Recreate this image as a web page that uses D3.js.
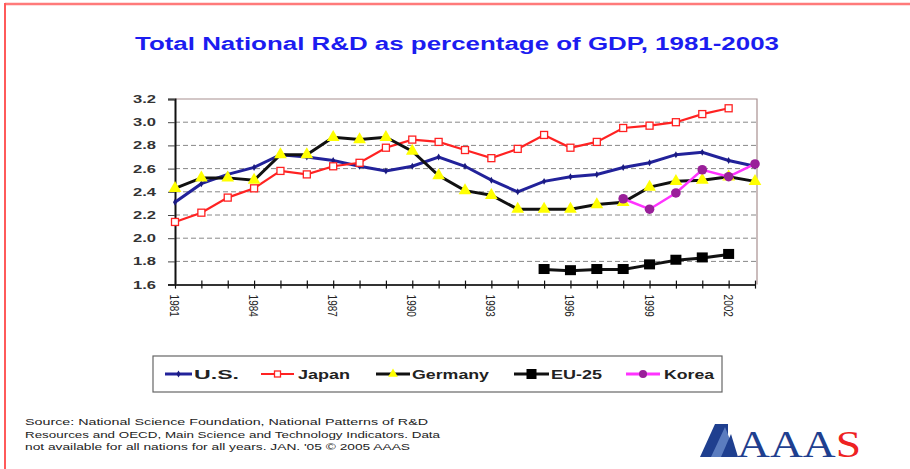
<!DOCTYPE html>
<html><head><meta charset="utf-8">
<script src="https://cdn.jsdelivr.net/npm/d3@7"></script>
<style>body{margin:0;background:#fff}svg{display:block}</style>
</head><body>
<svg id="c" width="910" height="469"></svg>
<script>
const years = d3.range(1981, 2004);
const yTicks = [1.6, 1.8, 2.0, 2.2, 2.4, 2.6, 2.8, 3.0, 3.2];
const xTickLabels = [1981, 1984, 1987, 1990, 1993, 1996, 1999, 2002];
const usYears = d3.range(1981, 2004);
const usValues = [2.31, 2.47, 2.55, 2.61, 2.72, 2.70, 2.67, 2.62, 2.58, 2.62, 2.70, 2.62, 2.50, 2.40, 2.49, 2.53, 2.55, 2.61, 2.65, 2.72, 2.74, 2.67, 2.62];
const japanYears = d3.range(1981, 2003);
const japanValues = [2.14, 2.22, 2.35, 2.43, 2.58, 2.55, 2.62, 2.65, 2.78, 2.85, 2.83, 2.76, 2.69, 2.77, 2.89, 2.78, 2.83, 2.95, 2.97, 3.00, 3.07, 3.12];
const germanyYears = d3.range(1981, 2004);
const germanyValues = [2.43, 2.52, 2.52, 2.50, 2.72, 2.72, 2.87, 2.85, 2.87, 2.75, 2.54, 2.41, 2.37, 2.25, 2.25, 2.25, 2.29, 2.31, 2.44, 2.49, 2.50, 2.53, 2.49];
const euYears = d3.range(1995, 2003);
const euValues = [1.73, 1.72, 1.73, 1.73, 1.77, 1.81, 1.83, 1.86];
const koreaYears = d3.range(1998, 2004);
const koreaValues = [2.34, 2.25, 2.39, 2.59, 2.53, 2.64];
const seriesNames = ["U.S.", "Japan", "Germany", "EU-25", "Korea"];
const sourceLines = [
  "Source: National Science Foundation, National Patterns of R&D",
  "Resources and OECD, Main Science and Technology Indicators. Data",
  "not available for all nations for all years. JAN. '05 \u00a9 2005 AAAS"
];

const svg = d3.select("#c");
const FONT = "Liberation Sans, Arial, sans-serif";
const x = d3.scaleLinear().domain([1981, 2003]).range([175, 755]);
const y = d3.scaleLinear().domain([1.6, 3.2]).range([284.6, 99]);

// red frame
svg.append("line").attr("x1", 5).attr("x2", 910).attr("y1", 4).attr("y2", 4).attr("stroke", "#ff7a7a").attr("stroke-width", 2.5);
svg.append("line").attr("x1", 5).attr("x2", 5).attr("y1", 3).attr("y2", 469).attr("stroke", "#ff5a5a").attr("stroke-width", 2);

// title (reference is horizontally stretched)
svg.append("text").attr("x", 135).attr("y", 50)
  .attr("font-family", FONT).attr("font-weight", "bold").attr("font-size", 18)
  .attr("textLength", 644).attr("lengthAdjust", "spacingAndGlyphs")
  .attr("fill", "#1c1cf0").text("Total National R&D as percentage of GDP, 1981-2003");

// gridlines
svg.append("g").selectAll("line").data(yTicks.slice(1, -1)).join("line")
  .attr("x1", 175).attr("x2", 757).attr("y1", d => y(d)).attr("y2", d => y(d))
  .attr("stroke", "#888").attr("stroke-width", 1).attr("stroke-dasharray", "5,3");
// top & right border
svg.append("path").attr("d", `M175,${y(3.2)}H757V${y(1.6)}`).attr("fill", "none").attr("stroke", "#a89090").attr("stroke-width", 1.2);

// y axis
const yAxis = d3.axisLeft(y).tickValues(yTicks).tickFormat(d3.format(".1f")).tickSize(7).tickPadding(12);
const gy = svg.append("g").attr("transform", "translate(175,0)").call(yAxis);
gy.select(".domain").attr("stroke", "#111").attr("stroke-width", 2);
gy.selectAll(".tick line").attr("stroke", "#444");
gy.selectAll("text").attr("font-family", FONT).attr("font-weight", "bold").attr("font-size", 11)
  .attr("textLength", 23).attr("lengthAdjust", "spacingAndGlyphs").attr("fill", "#333");

// x axis
const xAxis = d3.axisBottom(x).tickValues(years).tickSize(0).tickFormat("");
const gx = svg.append("g").attr("transform", `translate(0,${y(1.6)})`).call(xAxis);
gx.select(".domain").attr("stroke", "#333").attr("stroke-width", 2);
gx.selectAll(".tick").append("line").attr("y1", -4).attr("y2", 4).attr("stroke", "#111").attr("stroke-width", 1.2);
svg.append("g").selectAll("text").data(xTickLabels).join("text")
  .attr("transform", d => `translate(${x(d) - 5},${y(1.6) + 10}) rotate(90) scale(1,1.3)`)
  .attr("font-family", FONT).attr("font-size", 10).attr("fill", "#222")
  .text(d => d);

const line = d3.line().x(d => x(d[0])).y(d => y(d[1]));
const zip = (a, b) => a.map((v, i) => [v, b[i]]);

// US
const usData = zip(usYears, usValues);
svg.append("path").datum(usData).attr("d", line).attr("fill", "none").attr("stroke", "#22229a").attr("stroke-width", 3);
svg.append("g").selectAll("path").data(usData).join("path")
  .attr("d", d3.symbol(d3.symbolDiamond, 14)).attr("transform", d => `translate(${x(d[0])},${y(d[1])})`).attr("fill", "#1a1a80");
// Japan
const jpData = zip(japanYears, japanValues);
svg.append("path").datum(jpData).attr("d", line).attr("fill", "none").attr("stroke", "#ff2222").attr("stroke-width", 2.2);
svg.append("g").selectAll("rect").data(jpData).join("rect")
  .attr("x", d => x(d[0]) - 3.5).attr("y", d => y(d[1]) - 3.5).attr("width", 7).attr("height", 7)
  .attr("fill", "#fff").attr("stroke", "#ff2222").attr("stroke-width", 1.3);
// Germany
const deData = zip(germanyYears, germanyValues);
svg.append("path").datum(deData).attr("d", line).attr("fill", "none").attr("stroke", "#111").attr("stroke-width", 3);
svg.append("g").selectAll("path").data(deData).join("path")
  .attr("d", d3.symbol(d3.symbolTriangle, 70)).attr("transform", d => `translate(${x(d[0])},${y(d[1])})`).attr("fill", "#ffff00");
// EU-25
const euData = zip(euYears, euValues);
svg.append("path").datum(euData).attr("d", line).attr("fill", "none").attr("stroke", "#111").attr("stroke-width", 3);
svg.append("g").selectAll("rect").data(euData).join("rect")
  .attr("x", d => x(d[0]) - 5.5).attr("y", d => y(d[1]) - 5.5).attr("width", 11).attr("height", 10)
  .attr("fill", "#000");
// Korea
const krData = zip(koreaYears, koreaValues);
svg.append("path").datum(krData).attr("d", line).attr("fill", "none").attr("stroke", "#ff33ff").attr("stroke-width", 2.5);
svg.append("g").selectAll("circle").data(krData).join("circle")
  .attr("cx", d => x(d[0])).attr("cy", d => y(d[1])).attr("r", 4.8).attr("fill", "#991f99");

// legend
svg.append("rect").attr("x", 153).attr("y", 356).attr("width", 569).attr("height", 36)
  .attr("fill", "#fff").attr("stroke", "#666").attr("stroke-width", 1.2);
const legLine = [[165, 192], [261, 294], [376, 410], [514, 549], [626, 660]];
const legText = [[194, 45], [298, 52], [412, 77], [551, 51], [664, 50]];
const lg = svg.append("g");
const ly = 374;
seriesNames.forEach((name, i) => {
  const [x0, x1] = legLine[i], cx = (x0 + x1) / 2;
  const col = ["#22229a", "#ff2222", "#111", "#111", "#ff33ff"][i];
  lg.append("line").attr("x1", x0).attr("x2", x1).attr("y1", ly).attr("y2", ly).attr("stroke", col).attr("stroke-width", i === 1 ? 2.2 : 3);
  if (i === 0) lg.append("path").attr("d", d3.symbol(d3.symbolDiamond, 14)).attr("transform", `translate(${cx},${ly})`).attr("fill", "#1a1a80");
  if (i === 1) lg.append("rect").attr("x", cx - 3).attr("y", ly - 3).attr("width", 6).attr("height", 6).attr("fill", "#fff").attr("stroke", "#ff2222").attr("stroke-width", 1.3);
  if (i === 2) lg.append("path").attr("d", d3.symbol(d3.symbolTriangle, 40)).attr("transform", `translate(${cx},${ly})`).attr("fill", "#ffff00");
  if (i === 3) lg.append("rect").attr("x", cx - 5).attr("y", ly - 5).attr("width", 10).attr("height", 10).attr("fill", "#000");
  if (i === 4) lg.append("circle").attr("cx", cx).attr("cy", ly).attr("r", 4).attr("fill", "#991f99");
  lg.append("text").attr("x", legText[i][0]).attr("y", ly + 4.5)
    .attr("font-family", FONT).attr("font-weight", "bold").attr("font-size", 12)
    .attr("textLength", legText[i][1]).attr("lengthAdjust", "spacingAndGlyphs").attr("fill", "#222")
    .text(name);
});

// source
const srcLen = [403, 415, 385];
svg.append("g").selectAll("text").data(sourceLines).join("text")
  .attr("x", 25).attr("y", (d, i) => 425 + i * 12.5)
  .attr("font-family", FONT).attr("font-size", 9.5).attr("fill", "#222")
  .attr("textLength", (d, i) => srcLen[i]).attr("lengthAdjust", "spacingAndGlyphs")
  .text(d => d);

// AAAS logo
const logo = svg.append("g").attr("transform", "translate(700,424)");
logo.append("path").attr("d", "M0,33 L15,0 L28,0 L28,33 Z").attr("fill", "#1f3f8f");
logo.append("path").attr("d", "M11,33 L25,3 L37,33 Z").attr("fill", "#5b7cbf");
logo.append("path").attr("d", "M21,33 L31,10 L38,33 Z").attr("fill", "#1f3f8f");
const lt = logo.append("text").attr("x", 37).attr("y", 33)
  .attr("font-family", "Liberation Serif, Times New Roman, serif").attr("font-size", 38)
  .attr("textLength", 124).attr("lengthAdjust", "spacingAndGlyphs");
lt.append("tspan").attr("fill", "#1f3f8f").text("AAA");
lt.append("tspan").attr("fill", "#ee2222").text("S");
</script>
</body></html>
